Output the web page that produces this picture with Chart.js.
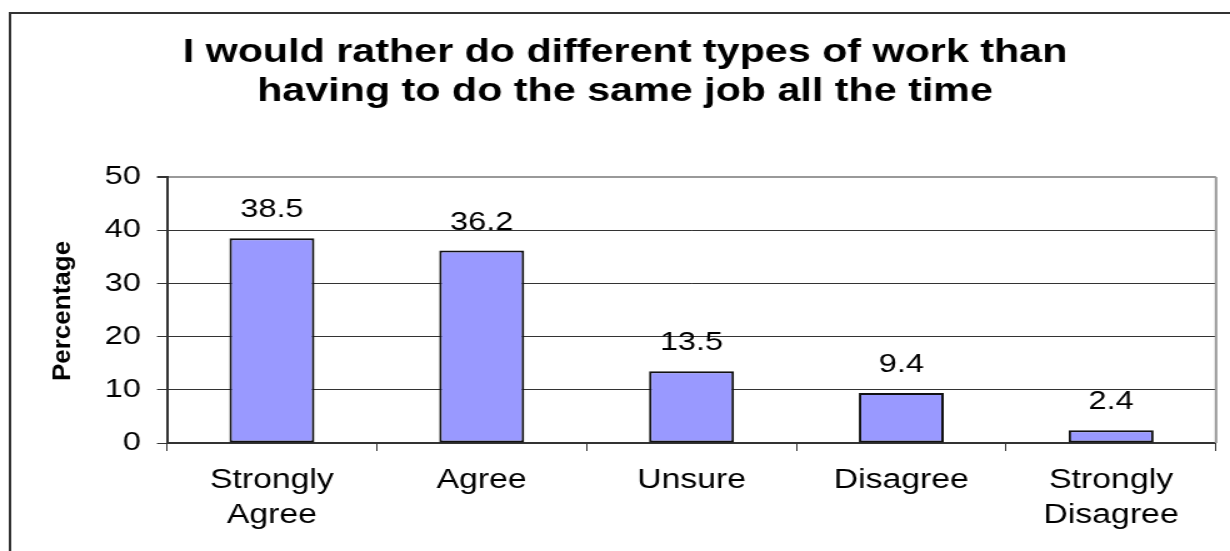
<!DOCTYPE html>
<html>
<head>
<meta charset="utf-8">
<script src="https://cdn.jsdelivr.net/npm/chart.js@4"></script>
<style>
  html, body { margin: 0; padding: 0; background: #fff; }
  /* the sheet is drawn narrow and widened, like the old exported chart */
  #wrap { width: 984px; height: 551px; transform: scaleX(1.25); transform-origin: 0 0; }
</style>
</head>
<body>
<div id="wrap"><canvas id="chart" width="984" height="551"></canvas></div>
<script>
  // answers (multi-line labels) and their share in percent
  const categories = [['Strongly', 'Agree'], 'Agree', 'Unsure', 'Disagree', ['Strongly', 'Disagree']];
  const percentages = [38.5, 36.2, 13.5, 9.4, 2.4];
  const yTicks = [0, 10, 20, 30, 40, 50];

  const titleLines = ['I would rather do different types of work than', 'having to do the same job all the time'];
  const yTitle = 'Percentage';

  const FONT = "'Liberation Sans', Arial, sans-serif";

  /* outer frame, title, y title, plot border and value labels */
  const decor = {
    id: 'decor',
    beforeDraw(chart) {
      const { ctx, width, height } = chart;
      ctx.save();
      ctx.fillStyle = '#fff';
      ctx.fillRect(0, 0, width, height);
      ctx.strokeStyle = '#333';
      ctx.lineWidth = 2;
      ctx.beginPath();
      ctx.moveTo(8, height);
      ctx.lineTo(8, 13);
      ctx.lineTo(width, 13);
      ctx.stroke();
      ctx.restore();
    },
    afterDraw(chart) {
      const { ctx, chartArea: a } = chart;
      ctx.save();

      // plot border, right side
      ctx.strokeStyle = '#999';
      ctx.lineWidth = 2;
      ctx.beginPath();
      ctx.moveTo(a.right, a.top);
      ctx.lineTo(a.right, a.bottom);
      ctx.stroke();

      // title
      ctx.fillStyle = '#000';
      ctx.textAlign = 'center';
      ctx.textBaseline = 'alphabetic';
      ctx.font = 'bold 33px ' + FONT;
      ctx.fillText(titleLines[0], 500, 62);
      ctx.fillText(titleLines[1], 500, 101);

      // y axis title, squeezed
      ctx.save();
      ctx.translate(50, 311);
      ctx.rotate(-Math.PI / 2);
      ctx.scale(1, 0.8);
      ctx.font = 'bold 26px ' + FONT;
      ctx.textBaseline = 'middle';
      ctx.fillText(yTitle, 0, 0);
      ctx.restore();

      // value labels above the bars
      ctx.font = '26px ' + FONT;
      ctx.textBaseline = 'middle';
      const meta = chart.getDatasetMeta(0);
      meta.data.forEach((bar, i) => {
        ctx.fillText(String(percentages[i]), bar.x, bar.y - 28);
      });
      ctx.restore();
    }
  };

  new Chart(document.getElementById('chart'), {
    type: 'bar',
    data: {
      labels: categories,
      datasets: [{
        data: percentages,
        backgroundColor: '#9999ff',
        borderColor: '#111',
        borderWidth: 2,
        borderSkipped: false,
        categoryPercentage: 1,
        barPercentage: 0.405,
      }],
    },
    options: {
      responsive: false,
      devicePixelRatio: 1,
      animation: false,
      layout: { padding: { top: 177, right: 11.2, bottom: 0, left: 0 } },
      plugins: {
        legend: { display: false },
        tooltip: { enabled: false },
      },
      scales: {
        x: {
          afterFit: (s) => { s.height = 108; },
          grid: {
            display: true,
            offset: true,
            drawOnChartArea: false,
            drawTicks: true,
            tickLength: 8,
            tickColor: '#333',
          },
          border: { display: true, color: '#333', width: 2 },
          ticks: {
            color: '#000',
            padding: 12,
            maxRotation: 0,
            autoSkip: false,
            font: { family: FONT, size: 27, lineHeight: 1.3 },
          },
        },
        y: {
          min: 0,
          max: 50,
          afterFit: (s) => { s.width = 133.6; },
          afterBuildTicks: (s) => { s.ticks = yTicks.map(v => ({ value: v })); },
          grid: {
            color: (c) => (c.tick && c.tick.value === 50 ? '#999' : '#333'),
            lineWidth: (c) => (c.tick && c.tick.value === 50 ? 2 : 1),
            tickLength: 8,
            tickColor: '#333',
          },
          border: { display: true, color: '#333', width: 2 },
          ticks: {
            color: '#000',
            padding: 13,
            font: { family: FONT, size: 26 },
          },
        },
      },
    },
    plugins: [decor],
  });
</script>
</body>
</html>
